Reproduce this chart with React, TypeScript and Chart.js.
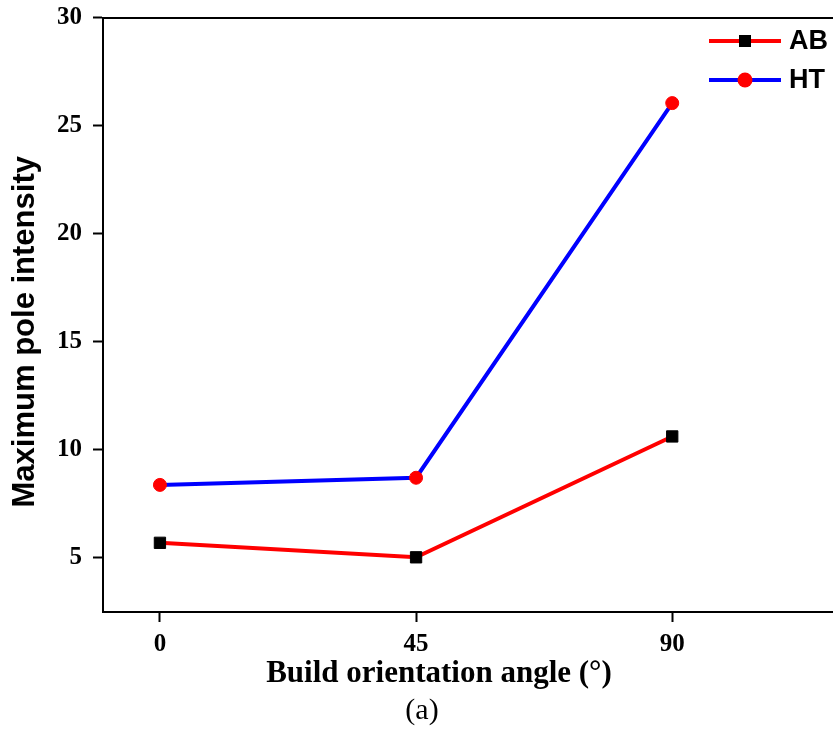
import React, { useEffect, useRef } from "react";
import { Chart, registerables } from "chart.js";

Chart.register(...registerables);

const angles = [0, 45, 90];
const abValues = [5.7, 5.03, 10.62];
const htValues = [8.38, 8.71, 26.04];
const xTickValues = [0, 45, 90];
const yTickValues = [5, 10, 15, 20, 25, 30];
const seriesLabels = ["AB", "HT"];
const xTitle = "Build orientation angle (°)";
const yTitle = "Maximum pole intensity";
const panelLabel = "(a)";

const SERIF = '"Liberation Serif", "Times New Roman", serif';
const SANS = '"Liberation Sans", Arial, sans-serif';

const annotationsPlugin = {
  id: "annotations",
  afterDraw(chart: any) {
    const ctx = chart.ctx;
    const area = chart.chartArea;
    ctx.save();
    ctx.fillStyle = "#000";
    ctx.font = `bold 31px ${SANS}`;
    ctx.textAlign = "center";
    ctx.textBaseline = "middle";
    ctx.translate(25, (area.top + area.bottom) / 2 + 17);
    ctx.rotate(-Math.PI / 2);
    ctx.fillText(yTitle, 0, 0);
    ctx.restore();

    ctx.save();
    ctx.fillStyle = "#000";
    ctx.textAlign = "center";
    ctx.textBaseline = "alphabetic";
    ctx.font = `bold 31px ${SERIF}`;
    ctx.fillText(xTitle, 439, 682);
    ctx.font = `30px ${SERIF}`;
    ctx.fillText(panelLabel, 422, 719);
    ctx.restore();

    ctx.save();
    chart.data.datasets.forEach((ds: any, i: number) => {
      const y = 41 + i * 39;
      ctx.strokeStyle = ds.borderColor;
      ctx.lineWidth = 4;
      ctx.beginPath();
      ctx.moveTo(709, y);
      ctx.lineTo(781, y);
      ctx.stroke();
      ctx.fillStyle = ds.pointBackgroundColor;
      if (ds.pointStyle === "rect") {
        ctx.fillRect(745 - 6, y - 6, 12, 12);
      } else {
        ctx.beginPath();
        ctx.arc(745, y, 7.5, 0, Math.PI * 2);
        ctx.fill();
      }
      ctx.fillStyle = "#000";
      ctx.font = `bold 27px ${SANS}`;
      ctx.textAlign = "left";
      ctx.textBaseline = "middle";
      ctx.fillText(ds.label, 789, y + 1);
    });
    ctx.restore();
  },
};

export default function App() {
  const canvasRef = useRef<HTMLCanvasElement | null>(null);

  useEffect(() => {
    if (!canvasRef.current) return;
    const chart = new Chart(canvasRef.current, {
      type: "line",
      data: {
        datasets: [
          {
            label: seriesLabels[0],
            data: angles.map((a, i) => ({ x: a, y: abValues[i] })),
            borderColor: "#ff0000",
            backgroundColor: "#000000",
            pointBackgroundColor: "#000000",
            pointBorderColor: "#000000",
            pointStyle: "rect",
            pointRadius: 8,
            pointBorderWidth: 1,
            borderWidth: 4,
            tension: 0,
          },
          {
            label: seriesLabels[1],
            data: angles.map((a, i) => ({ x: a, y: htValues[i] })),
            borderColor: "#0000ff",
            backgroundColor: "#ff0000",
            pointBackgroundColor: "#ff0000",
            pointBorderColor: "#ff0000",
            pointStyle: "circle",
            pointRadius: 6.5,
            pointBorderWidth: 1,
            borderWidth: 4,
            tension: 0,
          },
        ],
      },
      options: {
        responsive: false,
        animation: false,
        devicePixelRatio: 1,
        layout: { padding: { left: 0, right: 17, top: 0, bottom: 0 } },
        plugins: {
          legend: { display: false },
          tooltip: { enabled: false },
        },
        scales: {
          x: {
            type: "linear",
            position: "bottom",
            min: -10,
            max: 120,
            afterBuildTicks: (scale: any) => {
              scale.ticks = xTickValues.map((v) => ({ value: v }));
            },
            afterFit: (scale: any) => {
              scale.height = 119;
              scale.paddingLeft = 0;
              scale.paddingRight = 0;
            },
            grid: {
              drawOnChartArea: false,
              drawTicks: true,
              tickLength: 10,
              tickWidth: 2,
              tickColor: "#000",
            },
            border: { display: true, color: "#000", width: 2 },
            ticks: {
              color: "#000",
              font: { family: SERIF, size: 25, weight: "bold" },
              padding: 8,
              maxRotation: 0,
            },
          },
          x2: {
            type: "linear",
            position: "top",
            min: -10,
            max: 120,
            afterFit: (scale: any) => {
              scale.height = 17.5;
              scale.paddingLeft = 0;
              scale.paddingRight = 0;
            },
            grid: { display: false, drawTicks: false },
            border: { display: true, color: "#000", width: 2 },
            ticks: { display: false },
          },
          y: {
            type: "linear",
            position: "left",
            min: 2.5,
            max: 30,
            afterBuildTicks: (scale: any) => {
              scale.ticks = yTickValues.map((v) => ({ value: v }));
            },
            afterFit: (scale: any) => {
              scale.width = 103;
              scale.paddingTop = 0;
              scale.paddingBottom = 0;
            },
            grid: {
              drawOnChartArea: false,
              drawTicks: true,
              tickLength: 10,
              tickWidth: 2,
              tickColor: "#000",
            },
            border: { display: true, color: "#000", width: 2 },
            ticks: {
              color: "#000",
              font: { family: SERIF, size: 25, weight: "bold" },
              padding: 11,
            },
          },
        },
      },
      plugins: [annotationsPlugin],
    } as any);
    return () => chart.destroy();
  }, []);

  return (
    <div
      style={{
        position: "fixed",
        left: 0,
        top: 0,
        width: 833,
        height: 731,
        overflow: "hidden",
        background: "#fff",
      }}
    >
      <canvas
        ref={canvasRef}
        width={860}
        height={731}
        style={{ width: 860, height: 731, display: "block" }}
      />
    </div>
  );
}
